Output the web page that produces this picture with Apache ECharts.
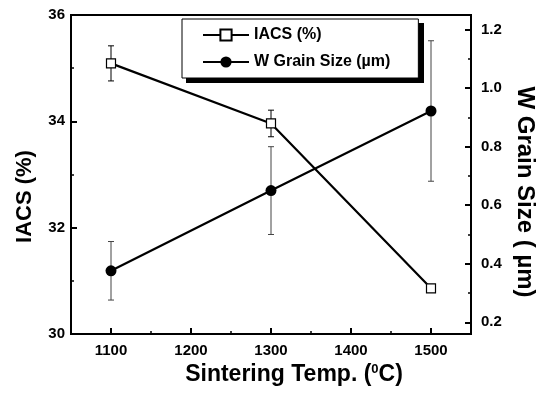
<!DOCTYPE html>
<html>
<head>
<meta charset="utf-8">
<script src="https://cdn.jsdelivr.net/npm/echarts@6/dist/echarts.min.js"></script>
<style>html,body{margin:0;padding:0;background:#fff}#c{width:548px;height:399px}</style>
</head>
<body>
<div id="c"></div>
<script>
var temps = [1100, 1300, 1500];
var iacs = [35.09, 33.96, 30.86];
var iacsErr = [0.33, 0.25, 0];
var grain = [0.376, 0.650, 0.922];
var grainErr = [0.10, 0.15, 0.24];
var xMajor = [1100, 1200, 1300, 1400, 1500];
var xMinor = [1150, 1250, 1350, 1450];
var yRightMajor = [0.2, 0.4, 0.6, 0.8, 1.0, 1.2];
var yRightMinor = [0.3, 0.5, 0.7, 0.9, 1.1];

var FONT = 'Arial, "Liberation Sans", sans-serif';

function errData(vals, errs) {
  return temps.map(function (t, i) { return [t, vals[i] - errs[i], vals[i] + errs[i]]; });
}
function errRender(color) {
  return function (params, api) {
    var x = api.value(0), lo = api.value(1), hi = api.value(2);
    if (hi - lo <= 0) return;
    var p1 = api.coord([x, hi]), p2 = api.coord([x, lo]);
    var w = 3;
    var st = { stroke: color, lineWidth: 1 };
    return { type: 'group', children: [
      { type: 'line', shape: { x1: p1[0], y1: p1[1], x2: p2[0], y2: p2[1] }, style: st },
      { type: 'line', shape: { x1: p1[0] - w, y1: p1[1], x2: p1[0] + w, y2: p1[1] }, style: st },
      { type: 'line', shape: { x1: p2[0] - w, y1: p2[1], x2: p2[0] + w, y2: p2[1] }, style: st }
    ]};
  };
}

var chart = echarts.init(document.getElementById('c'));
var axisLine = { show: true, onZero: false, lineStyle: { color: '#000', width: 2 } };
var labelStyle = { color: '#000', fontFamily: FONT, fontWeight: 'bold', fontSize: 15 };
function nameStyle(sz) { return { color: '#000', fontFamily: FONT, fontWeight: 'bold', fontSize: sz }; }

chart.setOption({
  animation: false,
  backgroundColor: '#fff',
  grid: { left: 71, right: 77, top: 15, bottom: 65, show: true, borderColor: '#000', borderWidth: 2, backgroundColor: 'transparent' },
  graphic: [{
    type: 'rect', z: 3, silent: true,
    shape: { x: 186, y: 23, width: 238, height: 60 },
    style: { fill: '#000' }
  }],
  legend: {
    orient: 'vertical',
    left: 182, top: 19,
    padding: [8, 28, 8, 20],
    itemWidth: 46, itemHeight: 14, itemGap: 11,
    backgroundColor: '#fff',
    borderColor: '#000', borderWidth: 1,
    z: 5,
    textStyle: { color: '#000', fontFamily: FONT, fontWeight: 'bold', fontSize: 16 },
    data: ['IACS (%)', 'W Grain Size (\u00b5m)']
  },
  xAxis: [{
    type: 'value', min: 1050, max: 1550, position: 'bottom',
    axisLine: axisLine,
    axisTick: { show: true, inside: true, length: 6, customValues: xMajor, lineStyle: { color: '#000', width: 2 } },
    axisLabel: Object.assign({ customValues: xMajor, margin: 9, formatter: function (v) { return String(v); } }, labelStyle),
    splitLine: { show: false },
    name: 'Sintering Temp. ({s|0}C)',
    nameLocation: 'middle', nameGap: 27,
    nameTextStyle: Object.assign({ padding: [0, 0, 0, 46], rich: { s: { fontSize: 13, fontWeight: 'bold', fontFamily: FONT, color: '#000', verticalAlign: 'top', padding: [0, 0, 9, 0] } } }, nameStyle(23))
  }, {
    type: 'value', min: 1050, max: 1550, position: 'bottom',
    axisLine: { show: false },
    axisTick: { show: true, inside: true, length: 3, customValues: xMinor, lineStyle: { color: '#000', width: 1.5 } },
    axisLabel: { show: false },
    splitLine: { show: false }
  }],
  yAxis: [{
    type: 'value', min: 30, max: 36, interval: 2, position: 'left',
    axisLine: axisLine,
    axisTick: { show: true, inside: true, length: 6, lineStyle: { color: '#000', width: 2 } },
    minorTick: { show: true, splitNumber: 2, length: 3, lineStyle: { color: '#000', width: 1.5 } },
    axisLabel: Object.assign({ margin: 6 }, labelStyle),
    splitLine: { show: false },
    name: 'IACS (%)', nameLocation: 'middle', nameGap: 35,
    nameTextStyle: Object.assign({ padding: [0, 44, 0, 0] }, nameStyle(22))
  }, {
    type: 'value', min: 0.16, max: 1.25, position: 'right',
    axisLine: axisLine,
    axisTick: { show: true, inside: true, length: 6, customValues: yRightMajor, lineStyle: { color: '#000', width: 2 } },
    axisLabel: Object.assign({ customValues: yRightMajor, margin: 10, formatter: function (v) { return v.toFixed(1); } }, labelStyle),
    splitLine: { show: false },
    name: 'W Grain Size ( \u00b5m)', nameLocation: 'middle', nameGap: 39, nameRotate: -90,
    nameTextStyle: Object.assign({ padding: [0, 0, 0, 35] }, nameStyle(24))
  }, {
    type: 'value', min: 0.16, max: 1.25, position: 'right',
    axisLine: { show: false },
    axisTick: { show: true, inside: true, length: 3, customValues: yRightMinor, lineStyle: { color: '#000', width: 1.5 } },
    axisLabel: { show: false },
    splitLine: { show: false }
  }],
  series: [{
    type: 'custom', name: 'iacsErr', xAxisIndex: 0, yAxisIndex: 0, z: 1,
    renderItem: errRender('#000'), data: errData(iacs, iacsErr), encode: { x: 0, y: [1, 2] }, silent: true
  }, {
    type: 'custom', name: 'grainErr', xAxisIndex: 0, yAxisIndex: 1, z: 1,
    renderItem: errRender('#444'), data: errData(grain, grainErr), encode: { x: 0, y: [1, 2] }, silent: true
  }, {
    type: 'line', name: 'IACS (%)', xAxisIndex: 0, yAxisIndex: 0, z: 3,
    data: temps.map(function (t, i) { return [t, iacs[i]]; }),
    symbol: 'rect', symbolSize: 9,
    itemStyle: { color: '#fff', borderColor: '#000', borderWidth: 1.2 },
    lineStyle: { color: '#000', width: 2.2 }
  }, {
    type: 'line', name: 'W Grain Size (\u00b5m)', xAxisIndex: 0, yAxisIndex: 1, z: 3,
    data: temps.map(function (t, i) { return [t, grain[i]]; }),
    symbol: 'circle', symbolSize: 11,
    itemStyle: { color: '#000', borderColor: '#000', borderWidth: 0 },
    lineStyle: { color: '#000', width: 2.2 }
  }]
});
</script>
</body>
</html>
